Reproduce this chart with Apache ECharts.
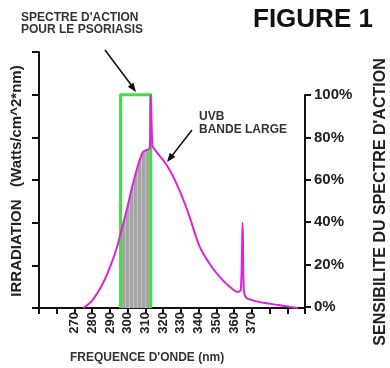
<!DOCTYPE html>
<html>
<head>
<meta charset="utf-8">
<script src="https://cdn.jsdelivr.net/npm/echarts@6/dist/echarts.min.js"></script>
<style>
html, body { margin: 0; padding: 0; background: #fff; }
#chart { width: 390px; height: 368px; }
</style>
</head>
<body>
<div id="chart"></div>
<script>
/*---- data ----*/
var wavelength = [275, 280, 286, 290, 294, 296, 299.5, 302, 305.5, 308.5, 310.5, 312.5, 313, 314, 315.5, 322, 328, 334, 340.5, 346, 352, 357.5, 362, 363.8, 364.8, 365.5, 366.7, 370, 377.6, 385, 392, 396];
var irradiance = [0, 3.5, 11.5, 19, 28.5, 35, 46, 55, 66, 73, 74, 75, 100, 76, 74, 67, 57.5, 45, 29, 21, 14.5, 10, 7.5, 8.5, 40, 8.5, 5, 3.7, 2.3, 1.4, 0.5, 0];
var actionBand = [296, 313];      // spectre d'action (nm)
var actionLevel = 100;            // 100 %
var fillBand = [296, 312.5];      // zone grise sous la courbe
var xTickLabels = [270, 280, 290, 300, 310, 320, 330, 340, 350, 360, 370];
var rightTicks = [0, 20, 40, 60, 80, 100];

var curve = wavelength.map(function (w, i) { return [w, irradiance[i]]; });
var shaded = curve.filter(function (p) { return p[0] >= fillBand[0] && p[0] <= fillBand[1]; });
var box = [[actionBand[0], 0], [actionBand[0], actionLevel], [actionBand[1], actionLevel], [actionBand[1], 0]];

/*---- grey hatch ----*/
var hatch = document.createElement('canvas');
hatch.width = 4; hatch.height = 4;
var hctx = hatch.getContext('2d');
hctx.fillStyle = '#a4a4a4'; hctx.fillRect(0, 0, 4, 4);
hctx.fillStyle = '#c2c2c2'; hctx.fillRect(1, 0, 1, 4);

var axisCol = '#111';
var font = 'Liberation Sans, Arial, sans-serif';

var option = {
    animation: false,
    grid: [
        { left: 39, right: 85, top: 52, bottom: 60 },
        { left: 39, right: 85, top: 95, bottom: 61 }
    ],
    xAxis: [{
        type: 'value', gridIndex: 0, min: 250, max: 400, interval: 10,
        splitLine: { show: false },
        axisLine: { lineStyle: { color: axisCol, width: 2 } },
        axisTick: { show: true, length: 6, lineStyle: { color: axisCol, width: 2 } },
        axisLabel: {
            rotate: 90, margin: 4, fontSize: 13, fontWeight: 'bold', color: '#222', fontFamily: font,
            formatter: function (v) { return xTickLabels.indexOf(v) >= 0 ? String(v) : ''; }
        }
    }, {
        type: 'value', gridIndex: 1, min: 250, max: 400, show: false
    }],
    yAxis: [{
        type: 'value', gridIndex: 0, min: 0, max: 120, interval: 20,
        splitLine: { show: false },
        axisLine: { show: true, lineStyle: { color: axisCol, width: 2 } },
        axisTick: { show: true, length: 7, lineStyle: { color: axisCol, width: 2 } },
        axisLabel: { show: false }
    }, {
        type: 'value', gridIndex: 1, position: 'right', min: 0, max: 100, interval: 20,
        splitLine: { show: false },
        axisLine: { show: true, lineStyle: { color: axisCol, width: 2 } },
        axisTick: { show: true, length: 6, lineStyle: { color: axisCol, width: 2 } },
        axisLabel: {
            margin: 9, fontSize: 15, fontWeight: 'bold', color: '#222', fontFamily: font,
            formatter: function (v) { return rightTicks.indexOf(v) >= 0 ? v + '%' : ''; }
        }
    }],
    series: [{
        name: 'zone', type: 'line', data: shaded, symbol: 'none', z: 1, smooth: 0.3,
        lineStyle: { width: 0 },
        areaStyle: { color: { image: hatch, repeat: 'repeat' }, opacity: 1 }
    }, {
        name: 'spectre', type: 'line', data: box, symbol: 'none', z: 2,
        lineStyle: { color: '#3fe03f', width: 3, join: 'round' }
    }, {
        name: 'UVB', type: 'line', data: curve, symbol: 'none', z: 3, smooth: 0.3,
        lineStyle: { color: '#dd22dd', width: 2 }
    }],
    graphic: [
        { type: 'text', left: 253, top: 7, style: { text: 'FIGURE 1', font: 'bold 26px ' + font, fill: '#111' } },
        { type: 'text', left: 21, top: 12, style: { text: "SPECTRE D'ACTION\nPOUR LE PSORIASIS", font: 'bold 12px ' + font, fill: '#333', lineHeight: 12 } },
        { type: 'text', left: 199, top: 110, style: { text: 'UVB\nBANDE LARGE', font: 'bold 12px ' + font, fill: '#333', lineHeight: 13 } },
        { type: 'text', x: 17, y: 181, rotation: Math.PI / 2,
          style: { text: 'IRRADIATION   (Watts/cm^2*nm)', font: 'bold 15px ' + font, fill: '#222', align: 'center', verticalAlign: 'middle' } },
        { type: 'text', x: 381, y: 202, rotation: Math.PI / 2,
          style: { text: "SENSIBILITE DU SPECTRE D'ACTION", font: 'bold 16px ' + font, fill: '#222', align: 'center', verticalAlign: 'middle' } },
        { type: 'text', left: 70, top: 352, style: { text: "FREQUENCE D'ONDE (nm)", font: 'bold 12px ' + font, fill: '#333' } },
        /* arrows */
        { type: 'line', shape: { x1: 105, y1: 50, x2: 132, y2: 86 }, style: { stroke: '#111', lineWidth: 1.5 } },
        { type: 'polygon', shape: { points: [[136, 92], [127.8, 86.8], [133.5, 82.7]] }, style: { fill: '#111' } },
        { type: 'line', shape: { x1: 192, y1: 130, x2: 171, y2: 157 }, style: { stroke: '#111', lineWidth: 1.5 } },
        { type: 'polygon', shape: { points: [[167, 162], [169.7, 152.8], [175.3, 157.0]] }, style: { fill: '#111' } }
    ]
};

var chart = echarts.init(document.getElementById('chart'));
chart.setOption(option);
</script>
</body>
</html>
